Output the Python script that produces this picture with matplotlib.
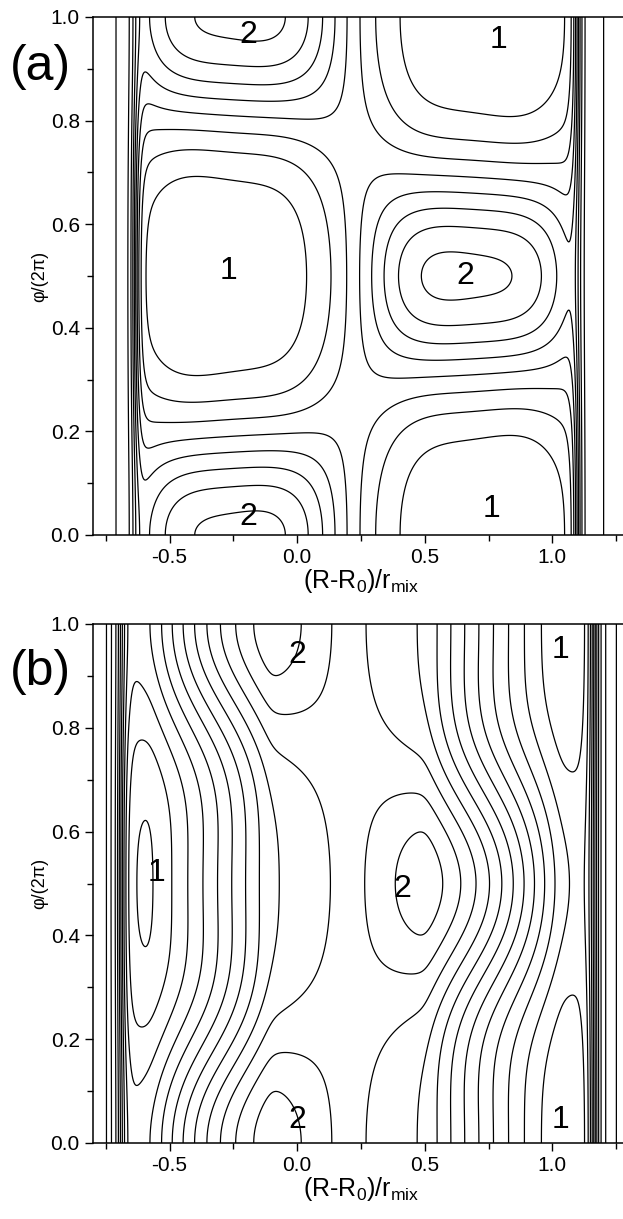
import numpy as np
import matplotlib
matplotlib.use("Agg")
import matplotlib.pyplot as plt
from matplotlib.ticker import MultipleLocator

plt.rcParams['font.family'] = ['Liberation Sans', 'DejaVu Sans']
plt.rcParams['mathtext.fontset'] = 'custom'
plt.rcParams['mathtext.rm'] = 'Liberation Sans'
plt.rcParams['mathtext.it'] = 'Liberation Sans'
plt.rcParams['axes.unicode_minus'] = False

# ---- field parameters ----
# H(x, phi) = F(x) + G(x) cos(2 pi phi) + G2(x) cos(4 pi phi), bounded by steep walls
# panel (a)
a_center = 0.22
a_bowl = 1.0
a_ramp = 0.0
a_flat = 0.0
a_sat = [5.0, 5.0]
a_G_amp = 4.0
a_G_period = 0.95
a_G_flatten = 1
a_harm2 = 0.25
a_wall_pos = [-0.635, 1.10]
a_wall_width = [0.012, 0.012]
a_wall_depth = 6.2
a_outer_pos = [-0.713, 1.204]
a_outer_depth = 1.0
a_levels = np.arange(-9.5, 8.0, 1.0)
# panel (b)
b_center = 0.2
b_bowl = 0.0
b_ramp = 18.0
b_flat = 0.30
b_sat = [0.78, 0.84]
b_G_amp = 2.4
b_G_period = 1.0
b_G_flatten = 0
b_harm2 = 0.3
b_wall_pos = [-0.69, 1.165]
b_wall_width = [0.014, 0.015]
b_wall_depth = 0.0
b_outer_pos = [-0.745, 1.25]
b_outer_depth = 1.0
b_levels = np.arange(-4.5, 16.0, 1.0)

# island labels
a_lab_x = [-0.27, 0.66, -0.19, 0.79, -0.19, 0.76]
a_lab_y = [0.51, 0.50, 0.965, 0.955, 0.035, 0.05]
a_lab_t = ['1', '2', '2', '1', '2', '1']
b_lab_x = [-0.55, 0.41, 0.0, 1.03, 0.0, 1.03]
b_lab_y = [0.52, 0.49, 0.94, 0.95, 0.045, 0.045]
b_lab_t = ['1', '2', '2', '1', '2', '1']

xlim = [-0.8, 1.3]
x_ticks = [-0.5, 0.0, 0.5, 1.0]


def sig(z):
    return 1.0 / (1.0 + np.exp(-np.clip(z, -60, 60)))


def sramp(s):
    return 0.5 * (s + np.sqrt(s ** 2 + 0.03 ** 2))


def field(x, p, x0, bowl, ramp, flat, sat, g, per, flt, h2, wall, wwid, depth, outer, odepth):
    u = x - x0
    satx = np.where(u < 0, sat[0], sat[1])
    F = bowl * u ** 2 + ramp * (sramp(np.abs(u) - flat) - sramp(np.abs(u) - satx))
    sn = np.sin(np.pi * np.clip(u / per, -1, 1))
    if flt:
        sn = 1.5 * sn - 0.5 * sn ** 3
    G = g * sn
    G2 = -h2 * G ** 2 / g
    env = sig((x - wall[0]) / wwid[0]) * sig((wall[1] - x) / wwid[1])
    H = (F + G * np.cos(2 * np.pi * p) + G2 * np.cos(4 * np.pi * p)) * env - depth * (1 - env)
    H -= odepth * (sig((outer[0] - x) / 0.004) + sig((x - outer[1]) / 0.004))
    return H


xg = np.linspace(xlim[0], xlim[1], 1000)
pg = np.linspace(0, 1, 600)
X, P = np.meshgrid(xg, pg)

Za = field(X, P, a_center, a_bowl, a_ramp, a_flat, a_sat, a_G_amp, a_G_period, a_G_flatten,
           a_harm2, a_wall_pos, a_wall_width, a_wall_depth, a_outer_pos, a_outer_depth)
Zb = field(X, P, b_center, b_bowl, b_ramp, b_flat, b_sat, b_G_amp, b_G_period, b_G_flatten,
           b_harm2, b_wall_pos, b_wall_width, b_wall_depth, b_outer_pos, b_outer_depth)

fig = plt.figure(figsize=(6.23, 12.19), dpi=100)
W, Hh = 623.0, 1219.0
ax_a = fig.add_axes([93 / W, (Hh - 535) / Hh, (629 - 93) / W, 518 / Hh])
ax_b = fig.add_axes([93 / W, (Hh - 1143) / Hh, (629 - 93) / W, 519 / Hh])

for ax, Z, lev, lx, ly, lt in [
        (ax_a, Za, a_levels, a_lab_x, a_lab_y, a_lab_t),
        (ax_b, Zb, b_levels, b_lab_x, b_lab_y, b_lab_t)]:
    ax.contour(X, P, Z, levels=lev, colors='black', linewidths=0.9, linestyles='solid')
    for xx, yy, tt in zip(lx, ly, lt):
        ax.text(xx, yy, tt, fontsize=23, ha='center', va='center')
    ax.set_xlim(xlim)
    ax.set_ylim(0, 1)
    ax.set_xticks(x_ticks)
    ax.xaxis.set_minor_locator(MultipleLocator(0.25))
    ax.yaxis.set_major_locator(MultipleLocator(0.2))
    ax.yaxis.set_minor_locator(MultipleLocator(0.1))
    ax.tick_params(which='major', direction='out', length=6, width=1.0, labelsize=15,
                   top=False, right=False)
    ax.tick_params(which='minor', direction='out', length=4, width=1.0, top=False, right=False)
    for sp in ax.spines.values():
        sp.set_linewidth(1.1)
    ax.set_xlabel(r'(R-R$_0$)/r$_{\mathrm{mix}}$', fontsize=18, labelpad=0)
    ax.set_ylabel('φ/(2π)', fontsize=13, labelpad=2)

fig.text(40 / W, 1 - 67 / Hh, '(a)', fontsize=36, ha='center', va='center')
fig.text(40 / W, 1 - 672 / Hh, '(b)', fontsize=36, ha='center', va='center')

fig.savefig('out.png', dpi=100)
